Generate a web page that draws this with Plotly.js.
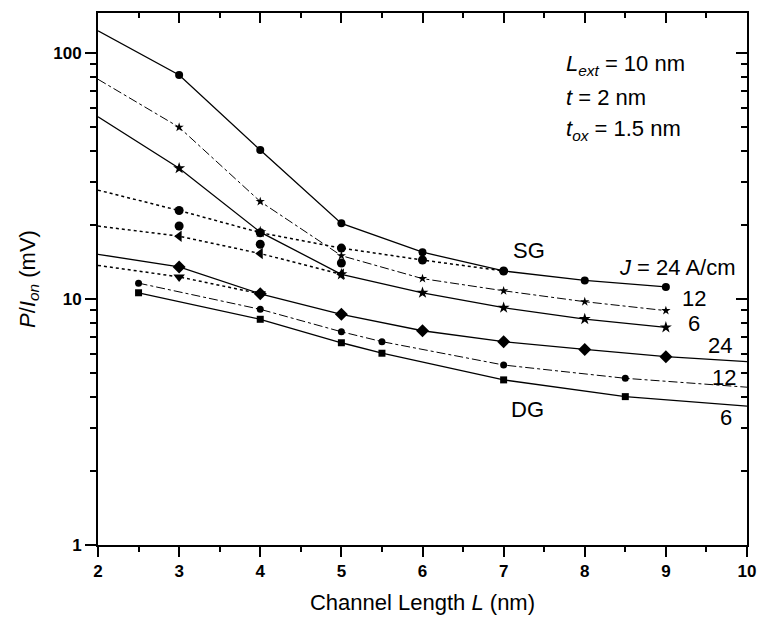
<!DOCTYPE html>
<html>
<head>
<meta charset="utf-8">
<script src="https://cdn.plot.ly/plotly-3.0.1.min.js"></script>
<style>
  html, body { margin: 0; padding: 0; background: #fff; }
  #chart { width: 758px; height: 621px; }
</style>
</head>
<body>
<div id="chart"></div>
<script>
// ---- data (x: channel length in nm, y: P/Ion in mV) ----
const sg24X = [2, 3, 4, 5, 6, 7, 8, 9];
const sg24Y = [123, 81.4, 40.3, 20.3, 15.5, 13.0, 11.9, 11.2];

const sg12X = [2, 3, 4, 5, 6, 7, 8, 9];
const sg12Y = [78.2, 49.9, 24.9, 15.0, 12.1, 10.8, 9.75, 8.97];

const sg6X = [2, 3, 4, 5, 6, 7, 8, 9];
const sg6Y = [55.1, 34.0, 18.7, 12.6, 10.6, 9.22, 8.29, 7.67];

const dotAX = [2, 3, 4, 5, 6, 7];
const dotAY = [27.7, 22.9, 18.6, 16.1, 14.4, 13.0];

const dotBX = [2, 3, 4, 5];
const dotBY = [19.8, 18.0, 15.3, 12.6];

const dotCX = [2, 3, 4];
const dotCY = [13.7, 12.3, 10.5];

const extraX = [3, 4, 5];
const extraY = [19.8, 16.7, 14.0];

const dg24X = [2, 3, 4, 5, 6, 7, 8, 9, 10];
const dg24Y = [15.2, 13.5, 10.5, 8.66, 7.43, 6.71, 6.24, 5.83, 5.56];

const dg12X = [2.5, 4, 5, 5.5, 7, 8.5, 10];
const dg12Y = [11.6, 9.08, 7.36, 6.71, 5.39, 4.76, 4.38];

const dg6X = [2.5, 4, 5, 5.5, 7, 8.5, 10];
const dg6Y = [10.6, 8.27, 6.64, 6.02, 4.69, 4.01, 3.67];

const xTickVals = [2, 3, 4, 5, 6, 7, 8, 9, 10];
const yTickVals = [1, 10, 100];
const yTickText = ['1', '10', '100'];

// ---- drawing ----
const FONT = 'Liberation Sans, Arial, sans-serif';
const edgeSize = (xs, s) => xs.map(x => (x <= 2 || x >= 10) ? 0 : s);

// minor log ticks 2..9 within each decade
const yMinor = [];
yTickVals.forEach(d => { for (let k = 2; k <= 9; k++) yMinor.push(d * k); });
const xMinor = xTickVals.slice(0, -1).map(v => v + 0.5);

function series(xs, ys, dash, symbol, size, width) {
  return {
    x: xs, y: ys, type: 'scatter', mode: 'lines+markers',
    line: { color: '#000', width: width || 1.3, dash: dash },
    marker: { color: '#000', symbol: symbol, size: edgeSize(xs, size), opacity: 1, line: { width: 0 } },
    hoverinfo: 'skip', showlegend: false, cliponaxis: true
  };
}

const traces = [
  series(sg24X, sg24Y, 'solid', 'circle', 8),
  series(sg12X, sg12Y, 'dashdot', 'star', 7, 1),
  series(sg6X, sg6Y, 'solid', 'star', 9),
  series(dotAX, dotAY, 'dot', 'circle', 9, 1.5),
  series(dotBX, dotBY, 'dot', 'triangle-left', 10, 1.5),
  series(dotCX, dotCY, 'dot', 'triangle-down', 10, 1.5),
  { x: extraX, y: extraY, type: 'scatter', mode: 'markers',
    marker: { color: '#000', symbol: 'circle', size: 9, opacity: 1 }, hoverinfo: 'skip', showlegend: false },
  series(dg24X, dg24Y, 'solid', 'diamond', 10),
  series(dg12X, dg12Y, 'dashdot', 'circle', 7, 1),
  series(dg6X, dg6Y, 'solid', 'square', 7)
];

const annFont = { family: FONT, size: 22, color: '#000' };
function ann(text, x, ylog, anchor) {
  return { text: text, x: x, y: ylog, xref: 'x', yref: 'y', showarrow: false,
           xanchor: anchor || 'left', yanchor: 'middle', font: annFont };
}

const annotations = [
  ann('<i>L</i><sub><i>ext</i></sub> = 10 nm', 7.74, 1.951),
  ann('<i>t</i> = 2 nm', 7.74, 1.821),
  ann('<i>t</i><sub><i>ox</i></sub> = 1.5 nm', 7.74, 1.687),
  ann('SG', 7.31, 1.199, 'center'),
  ann('<i>J</i> = 24 A/cm', 8.40, 1.130),
  ann('12', 9.18, 1.004),
  ann('6', 9.25, 0.902),
  ann('24', 9.49, 0.813),
  ann('12', 9.55, 0.679),
  ann('DG', 7.30, 0.549, 'center'),
  ann('6', 9.64, 0.520)
];

const yRange = [0, 2.1626];
const tickStyle = { tickwidth: 2, tickcolor: '#000' };
const layout = {
  width: 758, height: 621,
  margin: { l: 98, r: 11, t: 13, b: 76, pad: 0 },
  paper_bgcolor: '#fff', plot_bgcolor: '#fff',
  font: { family: FONT, color: '#000' },
  showlegend: false,
  xaxis: Object.assign({
    range: [2, 10], tickvals: xTickVals, ticks: 'outside', ticklen: 10,
    showline: true, linewidth: 2, linecolor: '#000', mirror: true,
    showgrid: false, zeroline: false,
    tickfont: { family: FONT, size: 17, color: '#000', weight: 'bold' },
    minor: Object.assign({ tickvals: xMinor, ticks: 'outside', ticklen: 5, showgrid: false }, tickStyle),
    title: { text: 'Channel Length <i>L</i> (nm)', font: { family: FONT, size: 22, color: '#000' }, standoff: 14 }
  }, tickStyle),
  yaxis: Object.assign({
    type: 'log', range: yRange, tickvals: yTickVals, ticktext: yTickText,
    ticks: 'outside', ticklen: 11,
    showline: true, linewidth: 2, linecolor: '#000', mirror: true,
    showgrid: false, zeroline: false,
    tickfont: { family: FONT, size: 17, color: '#000', weight: 'bold' },
    minor: Object.assign({ tickvals: yMinor, ticks: 'outside', ticklen: 6, showgrid: false }, tickStyle),
    title: { text: '<i>P</i>/<i>I</i><sub><i>on</i></sub> (mV)', font: { family: FONT, size: 22, color: '#000' }, standoff: 12 }
  }, tickStyle),
  xaxis2: Object.assign({
    overlaying: 'x', side: 'top', anchor: 'y', range: [2, 10], tickvals: xTickVals,
    ticks: 'inside', ticklen: 10, showticklabels: false,
    showline: false, showgrid: false, zeroline: false,
    minor: Object.assign({ tickvals: xMinor, ticks: 'inside', ticklen: 5, showgrid: false }, tickStyle)
  }, tickStyle),
  yaxis2: Object.assign({
    overlaying: 'y', side: 'right', anchor: 'x', type: 'log', range: yRange, tickvals: yTickVals,
    ticks: 'inside', ticklen: 11, showticklabels: false,
    showline: false, showgrid: false, zeroline: false,
    minor: Object.assign({ tickvals: yMinor, ticks: 'inside', ticklen: 6, showgrid: false }, tickStyle)
  }, tickStyle),
  annotations: annotations
};

// the mirrored axes carry a hidden copy of one series so they are drawn
traces.push({ x: sg24X, y: sg24Y, xaxis: 'x2', yaxis: 'y2', type: 'scatter', mode: 'lines',
              line: { width: 0 }, opacity: 0, hoverinfo: 'skip', showlegend: false });

Plotly.newPlot('chart', traces, layout, { staticPlot: true, displayModeBar: false });
</script>
</body>
</html>
